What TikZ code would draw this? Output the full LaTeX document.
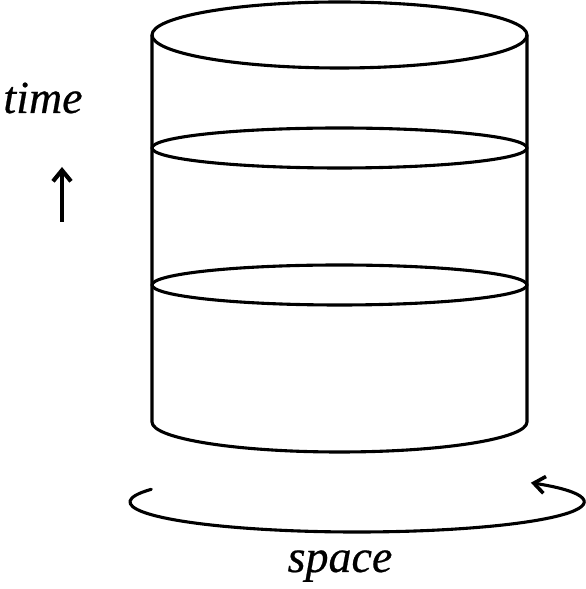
\documentclass[tikz,border=0pt]{standalone}
\usepackage{fontspec}
\setmainfont{Liberation Serif}
\newfontfamily\lblfont[FakeBold=0.5]{Liberation Serif Italic}
\usetikzlibrary{arrows.meta,calc}
\begin{document}
\begin{tikzpicture}[x=1pt,y=1pt,
  ln/.style={line width=3.1pt,line cap=round,line join=round},
  tip/.style={-{Straight Barb[length=11pt,width=17pt,line width=3.6pt]}},
  lbl/.style={anchor=base,inner sep=0pt,font=\fontsize{46}{50}\lblfont}]
\useasboundingbox (0,0) rectangle (586,589);
% cylinder
\coordinate (tl) at (152,554);
\coordinate (tr) at (527,554);
\coordinate (bl) at (152,167);
\coordinate (br) at (527,167);
\draw[ln] (339.5,554) ellipse [x radius=187.5, y radius=33];
\draw[ln] (339.5,441) ellipse [x radius=187.5, y radius=20];
\draw[ln] (339.5,304) ellipse [x radius=187.5, y radius=20];
\draw[ln] (tl) -- (bl) arc[start angle=180,end angle=360,x radius=187.5,y radius=30] -- (tr);
% orbit arrow
\coordinate (os) at ($(357,87)+(155:227 and 30)$);
\draw[ln,tip] (os) arc[start angle=155,end angle=400,x radius=227,y radius=30];
% labels
\node[lbl] (time) at (43,476) {time};
\node[lbl] (space) at (340,17) {space};
\coordinate (ta) at (62,367);
\coordinate (tb) at (62,422);
\draw[line width=4.2pt,-{Straight Barb[length=11pt,width=18pt,line width=4.2pt]}] (ta) -- (tb);
\end{tikzpicture}
\end{document}
